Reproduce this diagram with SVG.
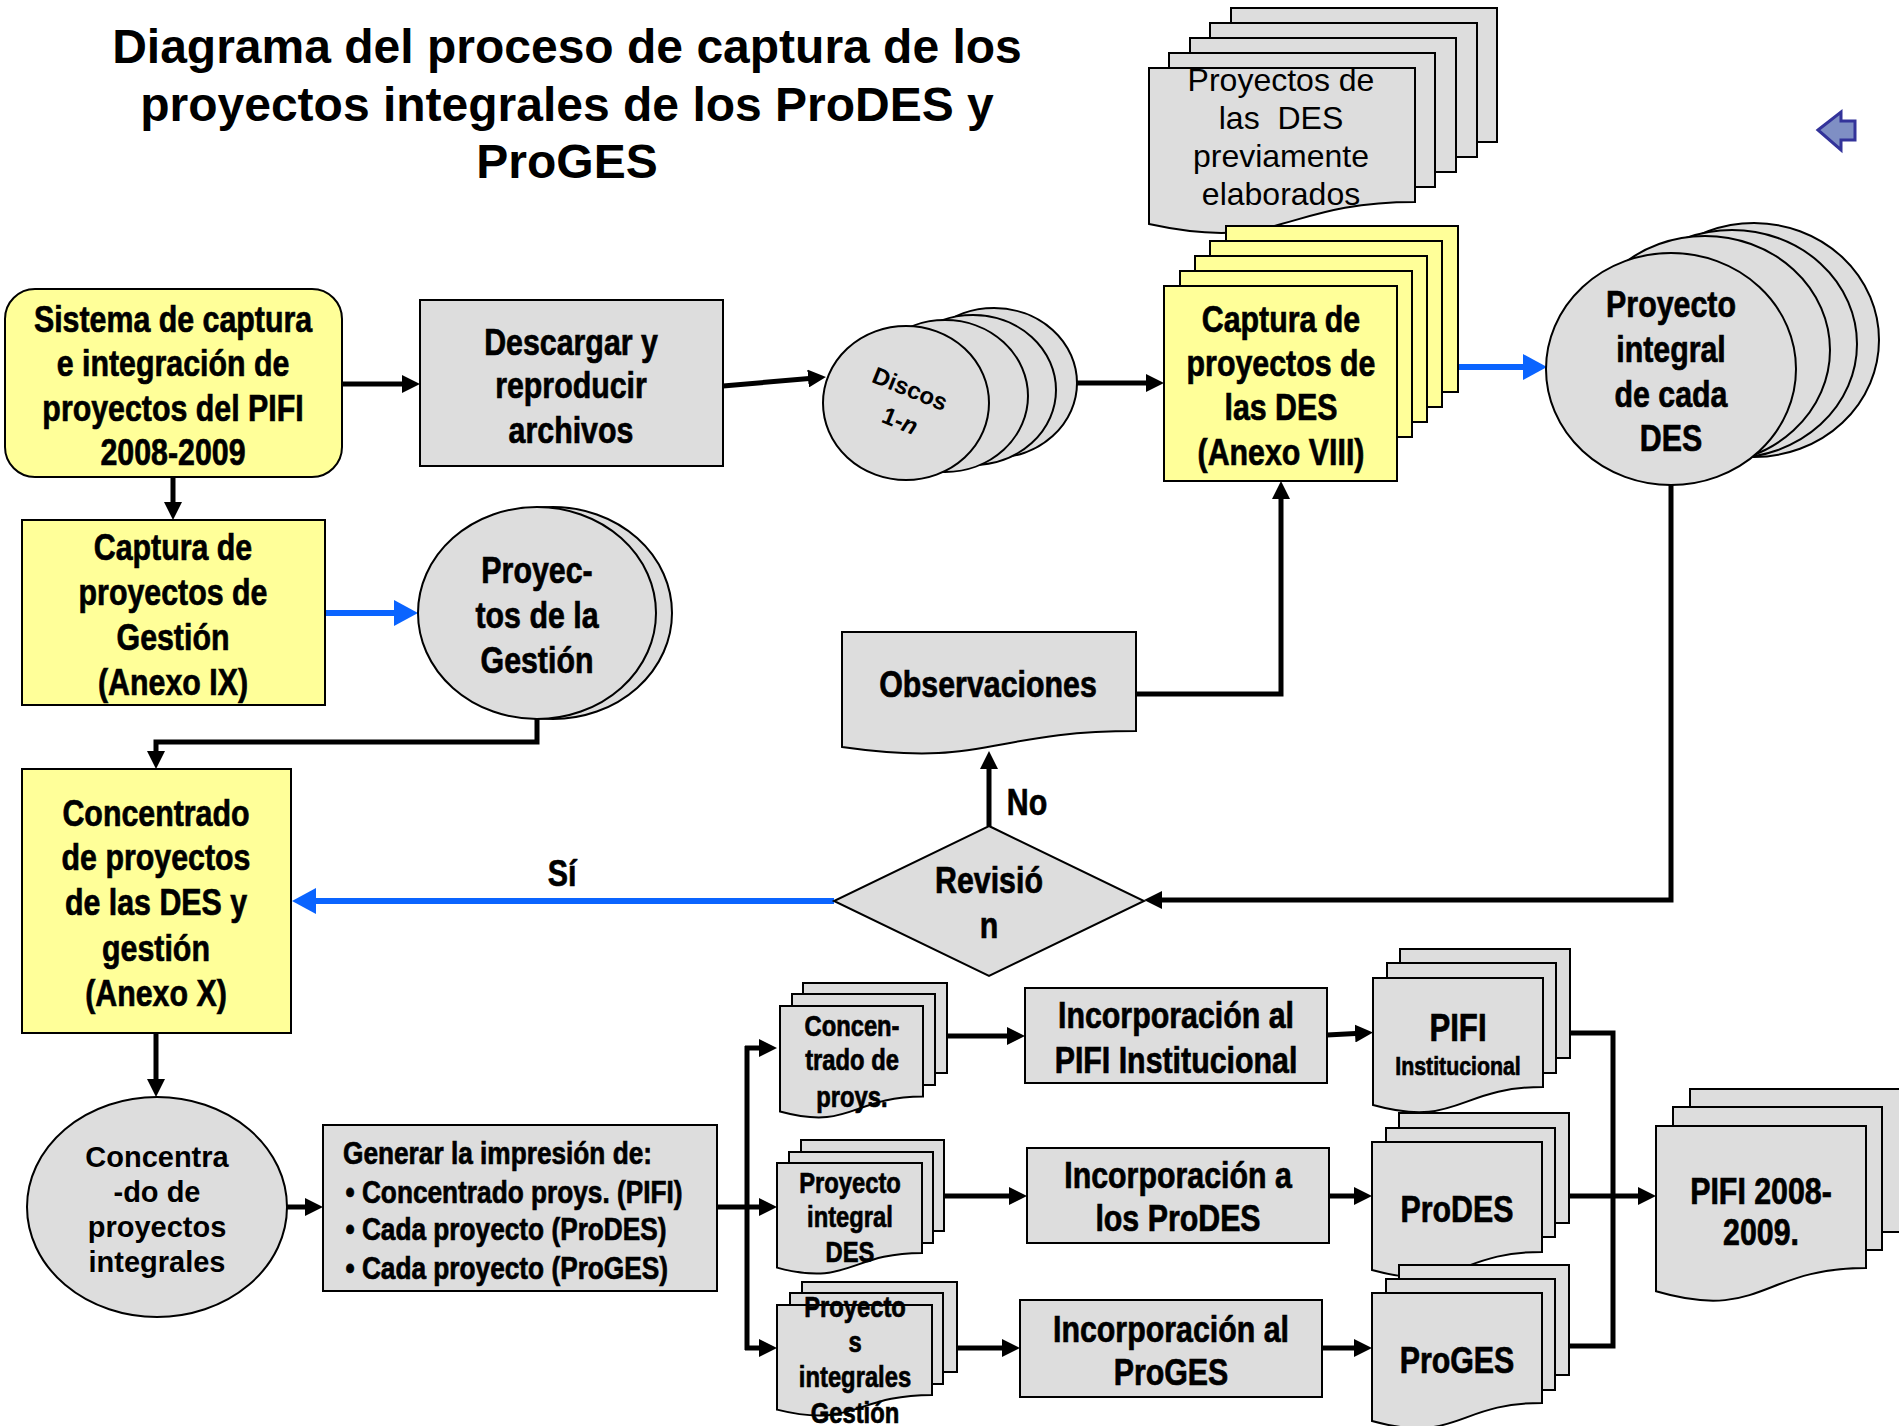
<svg xmlns="http://www.w3.org/2000/svg" width="1899" height="1426" viewBox="0 0 1899 1426">
<style>
.t{font-family:"Liberation Sans",Arial,Helvetica,sans-serif;font-weight:bold;text-anchor:middle;fill:#000}
.n{stroke:#000;stroke-width:0.7px}
.reg{font-weight:normal}
.y{fill:#ffff99;stroke:#000;stroke-width:2}
.g{fill:#dddddd;stroke:#000;stroke-width:2}
.c{fill:none;stroke:#000;stroke-width:5}
.b{fill:none;stroke:#0a64ff;stroke-width:6}
.a{marker-end:url(#ah)}
.ab{marker-end:url(#ahb)}
</style>
<defs>
<marker id="ah" markerUnits="userSpaceOnUse" markerWidth="18" markerHeight="18" refX="10" refY="9" orient="auto"><path d="M0,0L18,9L0,18Z" fill="#000"/></marker>
<marker id="ahb" markerUnits="userSpaceOnUse" markerWidth="24" markerHeight="26" refX="14" refY="13" orient="auto"><path d="M0,0L24,13L0,26Z" fill="#0a64ff"/></marker>
</defs>
<rect width="1899" height="1426" fill="#fff"/>

<g id="title"><text class="t" font-size="48"><tspan x="567" y="63">Diagrama del proceso de captura de los</tspan><tspan x="567" y="121">proyectos integrales de los ProDES y</tspan><tspan x="567" y="178">ProGES</tspan></text></g>

<g id="back-icon"><polygon points="1818,130 1841,112 1841,121 1855,121 1855,140 1841,140 1841,150" fill="#7f8fc4" stroke="#33339a" stroke-width="3" stroke-linejoin="miter"/></g>

<g id="connectors">
<path class="c a" d="M342,384H412"/>
<path class="c a" d="M173,477V512"/>
<path class="c a" d="M723,386L818,377.7"/>
<path class="c a" d="M1077,383H1156"/>
<path class="c a" d="M1281,226V278"/>
<path class="c a" d="M1671,485V900H1152"/>
<path class="c a" d="M989,826V759"/>
<path class="c a" d="M1136,694H1281V489"/>
<path class="c a" d="M537,719V742H156V761"/>
<path class="c a" d="M156,1033V1089"/>
<path class="c a" d="M287,1207H315"/>
<path class="c" d="M717,1207H747M747,1046V1350"/>
<path class="c a" d="M745,1048H769"/>
<path class="c a" d="M747,1207H769"/>
<path class="c a" d="M745,1348H769"/>
<path class="c a" d="M947,1036H1017"/>
<path class="c a" d="M944,1196H1019"/>
<path class="c a" d="M957,1348H1012"/>
<path class="c a" d="M1327,1035L1365,1033"/>
<path class="c a" d="M1329,1196H1364"/>
<path class="c a" d="M1322,1348H1364"/>
<path class="c" d="M1570,1033H1613V1346H1569"/>
<path class="c a" d="M1569,1196H1648"/>
<path class="b ab" d="M1458,367H1537"/>
<path class="b ab" d="M834,901H302"/>
<path class="b ab" d="M325,613H408"/>
<text class="t n" font-size="37" transform="translate(1027 0) scale(.82 1)"><tspan x="0" y="815">No</tspan></text>
<text class="t n" font-size="37" transform="translate(562 0) scale(.82 1)"><tspan x="0" y="886">Sí</tspan></text>
</g>

<g id="sistema"><rect class="y" x="5" y="289" width="337" height="188" rx="30"/>
<text class="t n" font-size="37" transform="translate(173 0) scale(.82 1)"><tspan x="0" y="332">Sistema de captura</tspan><tspan x="0" y="376">e integración de</tspan><tspan x="0" y="421">proyectos del PIFI</tspan><tspan x="0" y="465">2008-2009</tspan></text></g>

<g id="descargar"><rect class="g" x="420" y="300" width="303" height="166"/>
<text class="t n" font-size="37" transform="translate(571 0) scale(.82 1)"><tspan x="0" y="355">Descargar y</tspan><tspan x="0" y="398">reproducir</tspan><tspan x="0" y="443">archivos</tspan></text></g>

<g id="discos">
<ellipse class="g" cx="994" cy="383" rx="83" ry="75"/>
<ellipse class="g" cx="973" cy="390" rx="83" ry="75"/>
<ellipse class="g" cx="945" cy="396" rx="83" ry="76"/>
<ellipse class="g" cx="906" cy="403" rx="83" ry="77"/>
<text class="t" font-size="24" transform="translate(910 389) rotate(22)"><tspan x="0" y="8">Discos</tspan></text>
<text class="t" font-size="24" transform="translate(900 421) rotate(22)"><tspan x="0" y="8">1-<tspan font-style="italic">n</tspan></tspan></text>
</g>

<g id="proyectos-des">
<rect class="g" x="1231" y="8" width="266" height="134"/>
<rect class="g" x="1210" y="23" width="267" height="134"/>
<rect class="g" x="1190" y="38" width="266" height="134"/>
<rect class="g" x="1169" y="53" width="266" height="134"/>
<path class="g" d="M1149,68H1415V202C1282,202 1282,253 1149,224Z"/>
<text class="t reg" font-size="32"><tspan x="1281" y="91">Proyectos de</tspan><tspan x="1281" y="129">las&#160; DES</tspan><tspan x="1281" y="167">previamente</tspan><tspan x="1281" y="205">elaborados</tspan></text>
</g>

<g id="captura-des">
<rect class="y" x="1226" y="226" width="232" height="166"/>
<rect class="y" x="1210" y="241" width="232" height="166"/>
<rect class="y" x="1195" y="256" width="232" height="166"/>
<rect class="y" x="1180" y="271" width="232" height="166"/>
<rect class="y" x="1164" y="286" width="233" height="195"/>
<text class="t n" font-size="37" transform="translate(1281 0) scale(.82 1)"><tspan x="0" y="332">Captura de</tspan><tspan x="0" y="376">proyectos de</tspan><tspan x="0" y="420">las DES</tspan><tspan x="0" y="465">(Anexo VIII)</tspan></text>
</g>

<g id="proyecto-integral">
<ellipse class="g" cx="1754" cy="340" rx="125" ry="117"/>
<ellipse class="g" cx="1732" cy="344" rx="125" ry="114"/>
<ellipse class="g" cx="1705" cy="350" rx="125" ry="114"/>
<ellipse class="g" cx="1671" cy="369" rx="125" ry="116"/>
<text class="t n" font-size="37" transform="translate(1671 0) scale(.82 1)"><tspan x="0" y="317">Proyecto</tspan><tspan x="0" y="362">integral</tspan><tspan x="0" y="407">de cada</tspan><tspan x="0" y="451">DES</tspan></text>
</g>

<g id="captura-gestion"><rect class="y" x="22" y="520" width="303" height="185"/>
<text class="t n" font-size="37" transform="translate(173 0) scale(.82 1)"><tspan x="0" y="560">Captura de</tspan><tspan x="0" y="605">proyectos de</tspan><tspan x="0" y="650">Gestión</tspan><tspan x="0" y="695">(Anexo IX)</tspan></text></g>

<g id="proyectos-gestion">
<ellipse class="g" cx="553" cy="613" rx="119" ry="106"/>
<ellipse class="g" cx="537" cy="613" rx="119" ry="106"/>
<text class="t n" font-size="37" transform="translate(537 0) scale(.82 1)"><tspan x="0" y="583">Proyec-</tspan><tspan x="0" y="628">tos de la</tspan><tspan x="0" y="673">Gestión</tspan></text>
</g>

<g id="observaciones"><path class="g" d="M842,632H1136V731C989,731 989,768 842,747Z"/>
<text class="t n" font-size="37" transform="translate(988 0) scale(.82 1)"><tspan x="0" y="697">Observaciones</tspan></text></g>

<g id="revision"><polygon class="g" points="989,826 1144,901 989,976 834,901"/>
<text class="t n" font-size="37" transform="translate(989 0) scale(.82 1)"><tspan x="0" y="893">Revisió</tspan><tspan x="0" y="938">n</tspan></text></g>

<g id="concentrado"><rect class="y" x="22" y="769" width="269" height="264"/>
<text class="t n" font-size="37" transform="translate(156 0) scale(.82 1)"><tspan x="0" y="826">Concentrado</tspan><tspan x="0" y="870">de proyectos</tspan><tspan x="0" y="915">de las DES y</tspan><tspan x="0" y="961">gestión</tspan><tspan x="0" y="1006">(Anexo X)</tspan></text></g>

<g id="concentrado-integrales"><ellipse class="g" cx="157" cy="1207" rx="130" ry="110"/>
<text class="t" font-size="29"><tspan x="157" y="1167">Concentra</tspan><tspan x="157" y="1202">-do de</tspan><tspan x="157" y="1237">proyectos</tspan><tspan x="157" y="1272">integrales</tspan></text></g>

<g id="generar"><rect class="g" x="323" y="1125" width="394" height="166"/>
<text class="t n" font-size="32" style="text-anchor:start" transform="translate(343 0) scale(.82 1)"><tspan x="0" y="1164">Generar la impresión de:</tspan><tspan x="3" y="1203">• Concentrado proys. (PIFI)</tspan><tspan x="3" y="1240">• Cada proyecto (ProDES)</tspan><tspan x="3" y="1279">• Cada proyecto (ProGES)</tspan></text></g>

<g id="doc-concentrado">
<rect class="g" x="803" y="983" width="144" height="90"/>
<rect class="g" x="792" y="994" width="143" height="91"/>
<path class="g" d="M780,1006H923V1096.6C851.5,1096.6 851.5,1131 780,1111.5Z"/>
<text class="t n" font-size="29" transform="translate(852 0) scale(.82 1)"><tspan x="0" y="1036">Concen-</tspan><tspan x="0" y="1070">trado de</tspan><tspan x="0" y="1107">proys.</tspan></text>
</g>

<g id="doc-integral-des">
<rect class="g" x="801" y="1140" width="143" height="91"/>
<rect class="g" x="789" y="1152" width="144" height="91"/>
<path class="g" d="M777,1163H922V1253C849.5,1253 849.5,1287 777,1267.6Z"/>
<text class="t n" font-size="29" transform="translate(850 0) scale(.82 1)"><tspan x="0" y="1193">Proyecto</tspan><tspan x="0" y="1227">integral</tspan><tspan x="0" y="1262">DES</tspan></text>
</g>

<g id="doc-integrales-gestion">
<rect class="g" x="802" y="1282" width="155" height="90"/>
<rect class="g" x="790" y="1293" width="153" height="91"/>
<path class="g" d="M777,1305H932V1395C854.5,1395 854.5,1429 777,1409.6Z"/>
<text class="t n" font-size="29" transform="translate(855 0) scale(.82 1)"><tspan x="0" y="1317">Proyecto</tspan><tspan x="0" y="1352">s</tspan><tspan x="0" y="1387">integrales</tspan><tspan x="0" y="1423">Gestión</tspan></text>
</g>

<g id="inc-pifi"><rect class="g" x="1025" y="988" width="302" height="95"/>
<text class="t n" font-size="37" transform="translate(1176 0) scale(.82 1)"><tspan x="0" y="1028">Incorporación al</tspan><tspan x="0" y="1073">PIFI Institucional</tspan></text></g>

<g id="inc-prodes"><rect class="g" x="1027" y="1148" width="302" height="95"/>
<text class="t n" font-size="37" transform="translate(1178 0) scale(.82 1)"><tspan x="0" y="1188">Incorporación a</tspan><tspan x="0" y="1231">los ProDES</tspan></text></g>

<g id="inc-proges"><rect class="g" x="1020" y="1300" width="302" height="97"/>
<text class="t n" font-size="37" transform="translate(1171 0) scale(.82 1)"><tspan x="0" y="1342">Incorporación al</tspan><tspan x="0" y="1385">ProGES</tspan></text></g>

<g id="doc-pifi">
<rect class="g" x="1400" y="949" width="170" height="109"/>
<rect class="g" x="1387" y="963" width="169" height="110"/>
<path class="g" d="M1373,978H1543V1087C1458,1087 1458,1128.6 1373,1105Z"/>
<text class="t n" font-size="38" transform="translate(1458 0) scale(.82 1)"><tspan x="0" y="1041">PIFI</tspan></text>
<text class="t n" font-size="26" transform="translate(1458 0) scale(.82 1)"><tspan x="0" y="1075">Institucional</tspan></text>
</g>

<g id="doc-prodes">
<rect class="g" x="1399" y="1113" width="170" height="110"/>
<rect class="g" x="1386" y="1128" width="169" height="109"/>
<path class="g" d="M1372,1142H1542V1251.9C1457,1251.9 1457,1293.7 1372,1270Z"/>
<text class="t n" font-size="37" transform="translate(1457 0) scale(.82 1)"><tspan x="0" y="1222">ProDES</tspan></text>
</g>

<g id="doc-proges">
<rect class="g" x="1399" y="1265" width="170" height="110"/>
<rect class="g" x="1386" y="1279" width="169" height="111"/>
<path class="g" d="M1372,1293H1542V1402.9C1457,1402.9 1457,1444.7 1372,1421Z"/>
<text class="t n" font-size="37" transform="translate(1457 0) scale(.82 1)"><tspan x="0" y="1373">ProGES</tspan></text>
</g>

<g id="doc-pifi-2008">
<rect class="g" x="1690" y="1089" width="212" height="143"/>
<rect class="g" x="1673" y="1107" width="209" height="143"/>
<path class="g" d="M1656,1126H1866V1268C1761,1268 1761,1322 1656,1291.3Z"/>
<text class="t n" font-size="37" transform="translate(1761 0) scale(.82 1)"><tspan x="0" y="1204">PIFI 2008-</tspan><tspan x="0" y="1245">2009.</tspan></text>
</g>
</svg>
